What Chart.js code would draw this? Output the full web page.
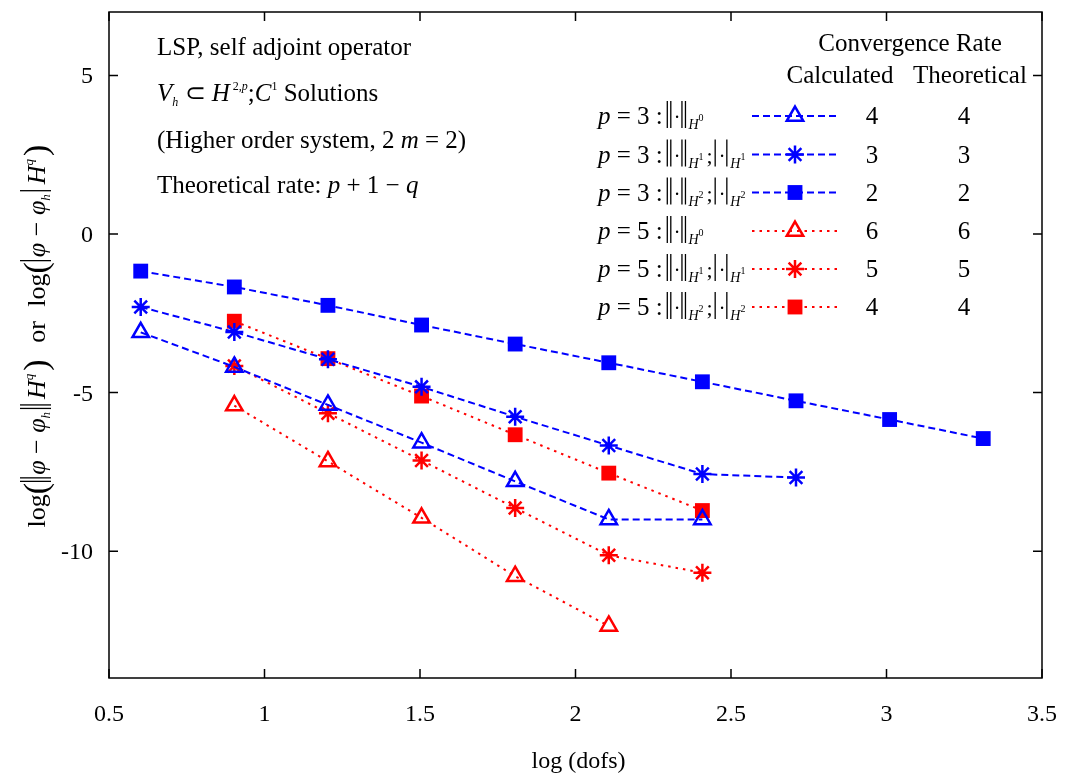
<!DOCTYPE html>
<html>
<head>
<meta charset="utf-8">
<script src="https://cdn.jsdelivr.net/npm/chart.js@4.4.0/dist/chart.umd.min.js"></script>
<style>
  html, body { margin: 0; padding: 0; background: #fff; }
  #wrap { width: 1066px; height: 773px; }
</style>
</head>
<body>
<div id="wrap"><canvas id="convChart" width="1066" height="773"></canvas></div>
<script>
// log10 of the number of dofs
const logDofs = [0.602, 0.903, 1.204, 1.505, 1.806, 2.107, 2.408, 2.709, 3.010, 3.311];

// errors, p = 3 (blue) and p = 5 (red), null = no run at that size
const p3H0 = [-3.10, -4.19, -5.39, -6.58, -7.80, -9.00, -9.00];
const p3H1 = [-2.30, -3.09, -3.95, -4.82, -5.76, -6.67, -7.57, -7.68];
const p3H2 = [-1.17, -1.67, -2.25, -2.87, -3.47, -4.06, -4.66, -5.26, -5.85, -6.45];
const p5H0 = [null, -5.41, -7.17, -8.95, -10.79, -12.36];
const p5H1 = [null, -4.16, -5.65, -7.14, -8.64, -10.13, -10.68];
const p5H2 = [null, -2.75, -3.93, -5.11, -6.33, -7.54, -8.72];

const calcRates = [4, 3, 2, 6, 5, 4];
const theoRates = [4, 3, 2, 6, 5, 4];
const pValues = [3, 3, 3, 5, 5, 5];
const normOrders = [0, 1, 2, 0, 1, 2];

const xTicks = [0.5, 1, 1.5, 2, 2.5, 3, 3.5];
const yTicks = [-10, -5, 0, 5];

const SERIF = '"Liberation Serif", "Times New Roman", serif';
const BLUE = '#0000ff';
const RED = '#ff0000';

function toPoints(vals) {
    return vals.map((v, i) => ({ x: logDofs[i], y: v })).filter(p => p.y !== null);
}

function makeSet(vals, color, style) {
    const blue = color === BLUE;
    const base = {
        data: toPoints(vals),
        showLine: true,
        borderColor: color,
        borderWidth: 2,
        borderDash: blue ? [7, 4] : [2.5, 5],
        pointBorderColor: color,
        pointStyle: style,
        tension: 0
    };
    if (style === 'rect') {
        base.pointRadius = 10.5;
        base.pointBackgroundColor = color;
        base.pointBorderWidth = 0;
    } else if (style === 'triangle') {
        base.pointRadius = 9.5;
        base.pointBackgroundColor = 'rgba(0,0,0,0)';
        base.pointBorderWidth = 2.5;
    } else {
        base.pointRadius = 9;
        base.pointBackgroundColor = color;
        base.pointBorderWidth = 2.5;
    }
    return base;
}

// draw a row of text pieces: {t, it, sz, dy}, {bar: 1|2} or {gap}
function runWidth(ctx, r) {
    if (r.bar) return r.bar === 2 ? 8 : 5;
    if (r.gap) return r.gap;
    ctx.font = (r.it ? 'italic ' : '') + r.sz + 'px ' + SERIF;
    return ctx.measureText(r.t).width;
}

function drawRuns(ctx, runs, x, y, align) {
    let total = 0;
    runs.forEach(r => { total += runWidth(ctx, r); });
    let cx = x;
    if (align === 'center') cx = x - total / 2;
    if (align === 'right') cx = x - total;
    ctx.textAlign = 'left';
    ctx.textBaseline = 'alphabetic';
    runs.forEach(r => {
        const w = runWidth(ctx, r);
        if (r.bar) {
            ctx.save();
            ctx.strokeStyle = '#000';
            ctx.lineWidth = 1.3;
            const top = y - (r.h || 23), bot = y + (r.d || 4);
            for (let k = 0; k < r.bar; k++) {
                const bx = cx + 1.5 + k * 3.5;
                ctx.beginPath();
                ctx.moveTo(bx, top);
                ctx.lineTo(bx, bot);
                ctx.stroke();
            }
            ctx.restore();
        } else if (!r.gap) {
            ctx.font = (r.it ? 'italic ' : '') + r.sz + 'px ' + SERIF;
            ctx.fillText(r.t, cx, y + (r.dy || 0));
        }
        cx += w;
    });
    return total;
}

function normRuns(p, q) {
    const runs = [
        { t: 'p', it: true, sz: 25 }, { t: ' = ', sz: 25 }, { t: String(p), sz: 25 },
        { t: ' :', sz: 25 }, { gap: 3 },
        { bar: 2 }, { t: '·', sz: 20 }, { bar: 2 },
        { t: 'H', it: true, sz: 14, dy: 5 }, { t: String(q), sz: 10, dy: -3 }
    ];
    if (q > 0) {
        runs.push({ gap: 3 }, { t: ';', sz: 22 }, { gap: 1 },
            { bar: 1 }, { t: '·', sz: 20 }, { bar: 1 },
            { t: 'H', it: true, sz: 14, dy: 5 }, { t: String(q), sz: 10, dy: -3 });
    }
    return runs;
}

const framePlugin = {
    id: 'frame',
    afterDraw(chart) {
        const { ctx, chartArea: a, scales: { x, y } } = chart;
        ctx.save();
        ctx.strokeStyle = '#000';
        ctx.lineWidth = 1.5;
        ctx.setLineDash([]);
        ctx.strokeRect(a.left, a.top, a.right - a.left, a.bottom - a.top);
        const tl = 9;
        ctx.beginPath();
        xTicks.forEach(v => {
            const px = x.getPixelForValue(v);
            ctx.moveTo(px, a.bottom); ctx.lineTo(px, a.bottom - tl);
            ctx.moveTo(px, a.top); ctx.lineTo(px, a.top + tl);
        });
        yTicks.forEach(v => {
            const py = y.getPixelForValue(v);
            ctx.moveTo(a.left, py); ctx.lineTo(a.left + tl, py);
            ctx.moveTo(a.right, py); ctx.lineTo(a.right - tl, py);
        });
        ctx.stroke();

        // tick labels and x title
        ctx.fillStyle = '#000';
        xTicks.forEach(v => {
            drawRuns(ctx, [{ t: String(v), sz: 24 }], x.getPixelForValue(v), a.bottom + 43, 'center');
        });
        yTicks.forEach(v => {
            drawRuns(ctx, [{ t: String(v), sz: 24 }], a.left - 16, y.getPixelForValue(v) + 8, 'right');
        });
        drawRuns(ctx, [{ t: 'log (dofs)', sz: 24 }], (a.left + a.right) / 2 + 3, a.bottom + 90, 'center');
        ctx.restore();
    }
};

const notesPlugin = {
    id: 'notes',
    afterDraw(chart) {
        const ctx = chart.ctx;
        ctx.save();
        ctx.fillStyle = '#000';

        // top-left description
        const lx = 157;
        drawRuns(ctx, [{ t: 'LSP, self adjoint operator', sz: 25 }], lx, 55);
        drawRuns(ctx, [
            { t: 'V', it: true, sz: 25 }, { t: 'h', it: true, sz: 12, dy: 5 }, { t: ' ⊂ ', sz: 25 },
            { t: 'H', it: true, sz: 25 }, { gap: 3 }, { t: '2,', sz: 12, dy: -11 }, { t: 'p', it: true, sz: 12, dy: -11 },
            { t: ';', sz: 25 }, { t: 'C', it: true, sz: 25 }, { t: '1', sz: 12, dy: -11 },
            { t: ' Solutions', sz: 25 }
        ], lx, 101);
        drawRuns(ctx, [
            { t: '(Higher order system, 2 ', sz: 25 }, { t: 'm', it: true, sz: 25 }, { t: ' = 2)', sz: 25 }
        ], lx, 148);
        drawRuns(ctx, [
            { t: 'Theoretical rate: ', sz: 25 }, { t: 'p', it: true, sz: 25 },
            { t: ' + 1 − ', sz: 25 }, { t: 'q', it: true, sz: 25 }
        ], lx, 193);

        // legend table
        drawRuns(ctx, [{ t: 'Convergence Rate', sz: 25 }], 910, 51, 'center');
        drawRuns(ctx, [{ t: 'Calculated', sz: 25 }], 840, 83, 'center');
        drawRuns(ctx, [{ t: 'Theoretical', sz: 25 }], 970, 83, 'center');

        const rowY = [116, 154.5, 192.5, 231, 269, 307];
        chart.data.datasets.forEach((ds, i) => {
            const cy = rowY[i];
            drawRuns(ctx, normRuns(pValues[i], normOrders[i]), 598, cy + 8);
            ctx.save();
            ctx.strokeStyle = ds.borderColor;
            ctx.lineWidth = ds.borderWidth;
            ctx.setLineDash(ds.borderDash);
            ctx.beginPath();
            ctx.moveTo(752, cy);
            ctx.lineTo(838, cy);
            ctx.stroke();
            ctx.setLineDash([]);
            ctx.fillStyle = ds.pointBackgroundColor;
            ctx.strokeStyle = ds.pointBorderColor;
            ctx.lineWidth = ds.pointBorderWidth;
            Chart.helpers.drawPoint(ctx, {
                pointStyle: ds.pointStyle, radius: ds.pointRadius, rotation: 0, borderWidth: ds.pointBorderWidth
            }, 795, cy);
            ctx.restore();
            ctx.fillStyle = '#000';
            drawRuns(ctx, [{ t: String(calcRates[i]), sz: 25 }], 872, cy + 8, 'center');
            drawRuns(ctx, [{ t: String(theoRates[i]), sz: 25 }], 964, cy + 8, 'center');
        });

        // y axis title, rotated
        ctx.save();
        ctx.translate(45, 336);
        ctx.rotate(-Math.PI / 2);
        const big = { sz: 34, dy: 2 };
        drawRuns(ctx, [
            { t: 'log', sz: 26 }, Object.assign({ t: '(' }, big), { bar: 2, h: 25, d: 6 },
            { t: 'φ', it: true, sz: 26 }, { t: ' − ', sz: 26 }, { t: 'φ', it: true, sz: 26 },
            { t: 'h', it: true, sz: 13, dy: 5 }, { gap: 2 }, { bar: 2, h: 25, d: 6 }, { gap: 3 },
            { t: 'H', it: true, sz: 26 }, { t: 'q', it: true, sz: 13, dy: -12 }, { gap: 3 }, Object.assign({ t: ')' }, big),
            { gap: 10 }, { t: ' or ', sz: 26 }, { gap: 8 },
            { t: 'log', sz: 26 }, Object.assign({ t: '(' }, big), { bar: 1, h: 25, d: 6 },
            { t: 'φ', it: true, sz: 26 }, { t: ' − ', sz: 26 }, { t: 'φ', it: true, sz: 26 },
            { t: 'h', it: true, sz: 13, dy: 5 }, { gap: 2 }, { bar: 1, h: 25, d: 6 }, { gap: 3 },
            { t: 'H', it: true, sz: 26 }, { t: 'q', it: true, sz: 13, dy: -12 }, { gap: 3 }, Object.assign({ t: ')' }, big)
        ], 0, 0, 'center');
        ctx.restore();

        ctx.restore();
    }
};

const ctx = document.getElementById('convChart').getContext('2d');
new Chart(ctx, {
    type: 'scatter',
    data: {
        datasets: [
            makeSet(p3H0, BLUE, 'triangle'),
            makeSet(p3H1, BLUE, 'star'),
            makeSet(p3H2, BLUE, 'rect'),
            makeSet(p5H0, RED, 'triangle'),
            makeSet(p5H1, RED, 'star'),
            makeSet(p5H2, RED, 'rect')
        ]
    },
    options: {
        responsive: false,
        animation: false,
        layout: { padding: { left: 109, right: 24, top: 10, bottom: 95 } },
        scales: {
            x: { type: 'linear', min: 0.5, max: 3.5, display: false },
            y: { type: 'linear', min: -14, max: 7, display: false }
        },
        plugins: {
            legend: { display: false },
            tooltip: { enabled: false }
        }
    },
    plugins: [framePlugin, notesPlugin]
});
</script>
</body>
</html>
